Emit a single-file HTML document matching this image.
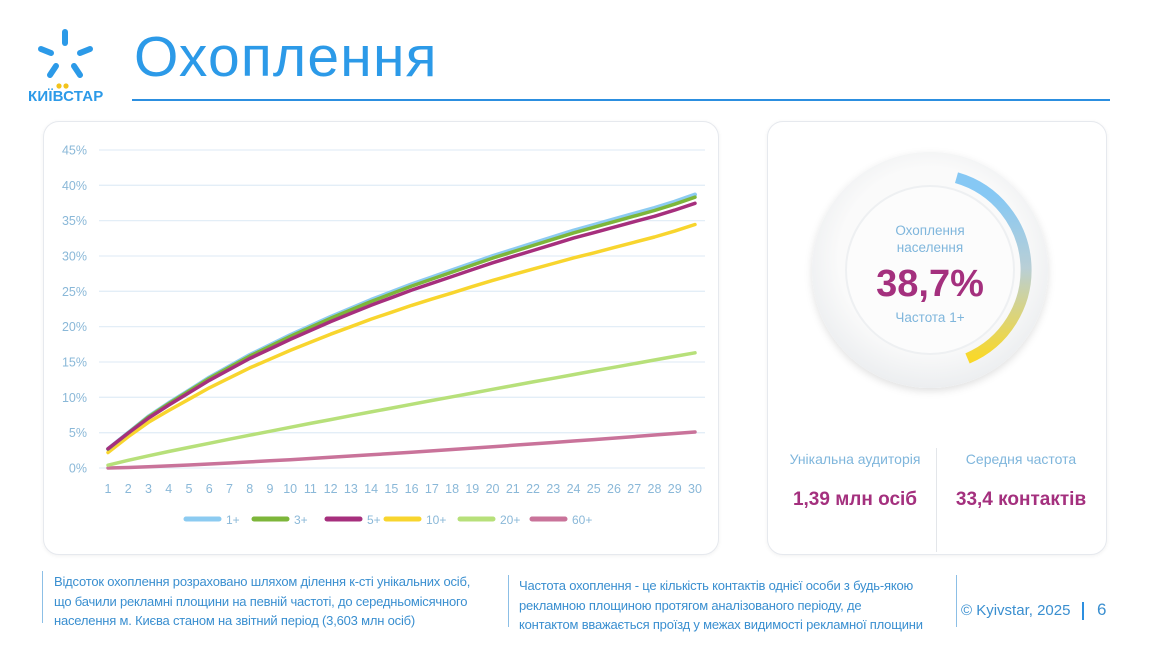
<!DOCTYPE html>
<html><head><meta charset="utf-8">
<style>
body{margin:0;width:1160px;height:653px;background:#fff;position:relative;overflow:hidden;font-family:"Liberation Sans","DejaVu Sans",sans-serif;}
.abs{position:absolute}
.card{position:absolute;border:1px solid #e6e9ee;border-radius:16px;background:#fff;box-shadow:0 1px 4px rgba(0,0,0,0.06)}
.foot{position:absolute;font-size:13px;color:#3a8fd0;line-height:19.5px;letter-spacing:-0.2px}
</style></head><body>
<svg class="abs" style="left:30px;top:25px" width="80" height="80" viewBox="0 0 80 80">
 <g stroke="#2c9ae8" stroke-width="6" stroke-linecap="round">
  <line x1="35" y1="7" x2="35" y2="18"/>
  <line x1="11" y1="24" x2="21" y2="28"/>
  <line x1="60" y1="24" x2="50" y2="28"/>
  <line x1="20" y1="50" x2="26" y2="41"/>
  <line x1="50" y1="50" x2="44" y2="41"/>
 </g>
 <circle cx="29" cy="61" r="2.6" fill="#f2c31b"/><circle cx="36" cy="61" r="2.6" fill="#f2c31b"/>
</svg>
<div class="abs" style="left:28px;top:88px;font-size:15px;font-weight:bold;color:#2c9ae8;letter-spacing:0.2px">КИЇВСТАР</div>
<div class="abs" style="left:134px;top:24px;font-size:57px;color:#2c9ae8;letter-spacing:1.2px">Охоплення</div>
<div class="abs" style="left:132px;top:99px;width:978px;height:2px;background:#2c8fe0"></div>

<div class="card" style="left:43px;top:121px;width:674px;height:432px"></div>
<div class="card" style="left:767px;top:121px;width:338px;height:432px"></div>

<svg class="abs" style="left:0;top:0" width="1160" height="653" id="ch"></svg>

<div class="abs" style="left:936px;top:448px;width:1px;height:104px;background:#e3e6ea"></div>
<div class="abs" style="left:770px;top:451px;width:170px;text-align:center;font-size:14px;color:#7fb6dc">Унікальна аудиторія</div>
<div class="abs" style="left:936px;top:451px;width:170px;text-align:center;font-size:14px;color:#7fb6dc">Середня частота</div>
<div class="abs" style="left:770px;top:489px;width:170px;text-align:center;font-size:19px;font-weight:bold;color:#a4307e">1,39 млн осіб</div>
<div class="abs" style="left:936px;top:489px;width:170px;text-align:center;font-size:19px;font-weight:bold;color:#a4307e">33,4 контактів</div>

<div class="abs" style="left:42px;top:571px;width:1px;height:52px;background:#8cbfe6"></div>
<div class="foot" style="left:54px;top:572px">Відсоток охоплення розраховано шляхом ділення к-сті унікальних осіб,<br>що бачили рекламні площини на певній частоті, до середньомісячного<br>населення м. Києва станом на звітний період (3,603 млн осіб)</div>
<div class="abs" style="left:508px;top:575px;width:1px;height:52px;background:#8cbfe6"></div>
<div class="foot" style="left:519px;top:576px">Частота охоплення - це кількість контактів однієї особи з будь-якою<br>рекламною площиною протягом аналізованого періоду, де<br>контактом вважається проїзд у межах видимості рекламної площини</div>
<div class="abs" style="left:956px;top:575px;width:1px;height:52px;background:#8cbfe6"></div>
<div class="abs" style="left:961px;top:602px;font-size:15px;color:#3a8fd0">© Kyivstar, 2025</div>
<div class="abs" style="left:1082px;top:602px;width:2px;height:18px;background:#2c8fe0"></div>
<div class="abs" style="left:1097px;top:600px;font-size:17px;color:#3a8fd0">6</div>

<script>
var s='';
var X=function(i){return 108+(i-1)*20.24},Y=function(v){return 468-v*7.067};
for(var k=0;k<=9;k++){var v=k*5,y=Y(v);
 s+='<line x1="99" x2="705" y1="'+y+'" y2="'+y+'" stroke="#e3eef7" stroke-width="1.3"/>';
 s+='<text x="87" y="'+(y+4.5)+'" text-anchor="end" font-size="12.5" fill="#8ab8d8" font-family="Liberation Sans">'+v+'%</text>';}
for(var i=1;i<=30;i++) s+='<text x="'+X(i)+'" y="493" text-anchor="middle" font-size="12.5" fill="#8ab8d8" font-family="Liberation Sans">'+i+'</text>';
var b=[2.7,5,7.3,9.2,11,12.8,14.4,16,17.4,18.8,20.1,21.4,22.6,23.8,24.9,26,27,28,29,30,30.9,31.8,32.7,33.6,34.4,35.2,36,36.8,37.7,38.7];
function path(f,c,w){var d='';for(var i=1;i<=30;i++)d+=(i==1?'M':'L')+X(i).toFixed(1)+' '+Y(f(i)).toFixed(1);
 return '<path d="'+d+'" fill="none" stroke="'+c+'" stroke-width="'+w+'" stroke-linejoin="round" stroke-linecap="round"/>';}
s+=path(function(i){return 5.1*Math.pow((i-1)/29,1.25)},'#c9739a',3.5);
s+=path(function(i){return 0.4+15.9*Math.pow((i-1)/29,0.93)},'#b7e07a',3.5);
s+=path(function(i){return b[i-1]*0.885+(i==1?-0.2:0)+ (i>25?(i-25)*0.04:0)},'#f8d52e',3.5);
s+=path(function(i){return b[i-1]},'#8ccbf1',4);
s+=path(function(i){return b[i-1]*0.99},'#7db63a',3.5);
s+=path(function(i){return b[i-1]*0.968+(i<3?0.1:0)},'#a62f7d',3.5);
var L=[['1+','#8ccbf1',186],['3+','#7db63a',254],['5+','#a62f7d',327],['10+','#f8d52e',386],['20+','#b7e07a',460],['60+','#c9739a',532]];
L.forEach(function(l){s+='<line x1="'+l[2]+'" x2="'+(l[2]+33)+'" y1="519" y2="519" stroke="'+l[1]+'" stroke-width="5" stroke-linecap="round"/><text x="'+(l[2]+40)+'" y="524" font-size="12" fill="#8ab8d8" font-family="Liberation Sans">'+l[0]+'</text>';});
var cx=930,cy=270;
s+='<defs><radialGradient id="rg" cx="50%" cy="45%" r="55%"><stop offset="0.7" stop-color="#fafafa"/><stop offset="1" stop-color="#eceef0"/></radialGradient><linearGradient id="ag" x1="0" y1="0" x2="0" y2="1"><stop offset="0.1" stop-color="#86c8f4"/><stop offset="0.5" stop-color="#b9cfd6"/><stop offset="1" stop-color="#f9d829"/></linearGradient><filter id="sh" x="-20%" y="-20%" width="140%" height="140%"><feDropShadow dx="0" dy="3" stdDeviation="4" flood-color="#000" flood-opacity="0.12"/></filter></defs>';
s+='<circle cx="'+cx+'" cy="'+cy+'" r="118" fill="url(#rg)" filter="url(#sh)"/>';
s+='<circle cx="'+cx+'" cy="'+cy+'" r="84" fill="#fcfcfc" stroke="#eef0f2" stroke-width="2"/>';
function pt(a,r){a=a*Math.PI/180;return (cx+r*Math.sin(a)).toFixed(1)+' '+(cy-r*Math.cos(a)).toFixed(1);}
s+='<path d="M'+pt(16,96)+' A96 96 0 0 1 '+pt(157,96)+'" fill="none" stroke="url(#ag)" stroke-width="11"/>';
s+='<text x="'+cx+'" y="235" text-anchor="middle" font-size="13.5" fill="#7fb6dc" font-family="Liberation Sans">Охоплення</text>';
s+='<text x="'+cx+'" y="252" text-anchor="middle" font-size="13.5" fill="#7fb6dc" font-family="Liberation Sans">населення</text>';
s+='<text x="'+cx+'" y="296" text-anchor="middle" font-size="38" font-weight="bold" fill="#a4307e" font-family="Liberation Sans">38,7%</text>';
s+='<text x="'+cx+'" y="322" text-anchor="middle" font-size="13.5" fill="#7fb6dc" font-family="Liberation Sans">Частота 1+</text>';
document.getElementById('ch').innerHTML=s;
</script>
</body></html>
